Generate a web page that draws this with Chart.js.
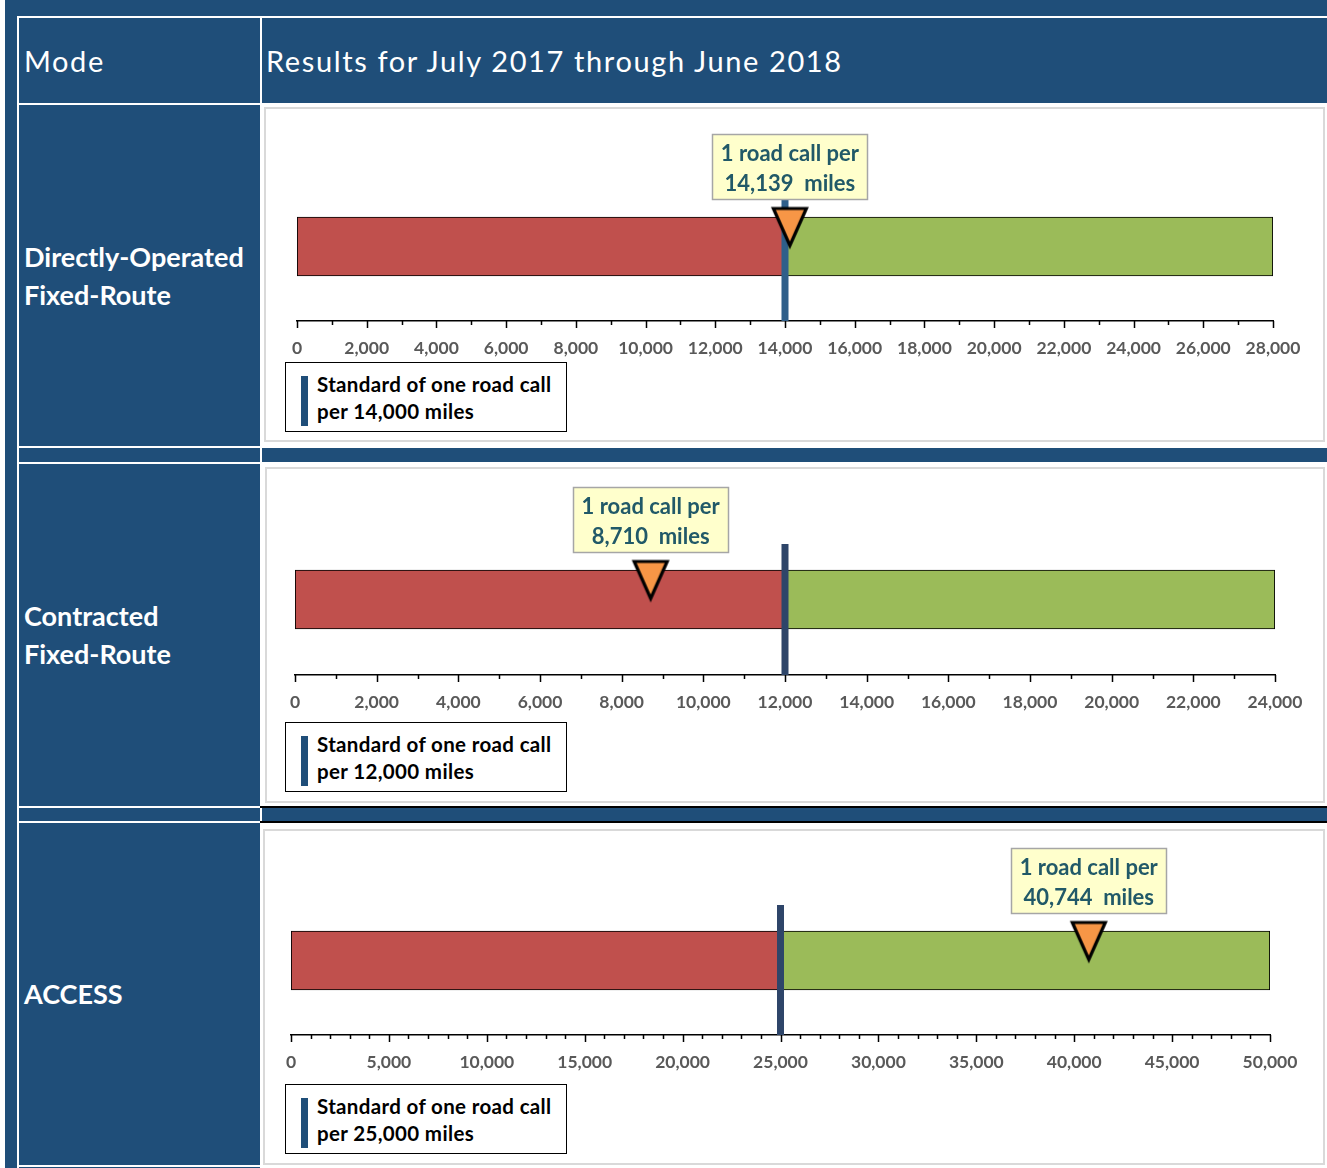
<!DOCTYPE html>
<html><head><meta charset="utf-8">
<script src="https://cdn.jsdelivr.net/npm/chart.js@4.4.1/dist/chart.umd.min.js"></script>
<style>
html,body{margin:0;padding:0}
body{background:#fff;width:1327px;height:1168px;overflow:hidden;position:relative;font-family:Lato,"Noto Sans",sans-serif}
.a{position:absolute}
.blue{background:#1f4e79}
.w{background:#fff}
.k{background:#000}
.lab{position:absolute;display:flex;flex-direction:column;justify-content:center;color:#fff;box-sizing:border-box}
.panel{position:absolute;box-sizing:border-box;border:2px solid #d9d9d9;background:#fff}
.legend{position:absolute;box-sizing:border-box;border:1.5px solid #000;background:#fff;color:#000;font-weight:bold;font-size:20.5px;line-height:27px;letter-spacing:0.35px}
.legend .sw{position:absolute;background:#1f4e79;width:7px}
</style></head><body>
<div id="root"></div>
<script>
// ---- data ----
const headerLabels = ["Mode", "Results for July 2017 through June 2018"];
const modeLabels = [["Directly-Operated", "Fixed-Route"], ["Contracted", "Fixed-Route"], ["ACCESS"]];
const standardMiles = [14000, 12000, 25000];
const resultMiles = [14139, 8710, 40744];
const axisMax = [28000, 24000, 50000];
const majorStep = [2000, 2000, 5000];
const minorStep = [1000, 1000, 1000];
const annotationLine1 = "1 road call per";
const annotationUnit = "miles";
const legendLine1 = "Standard of one road call";

// ---- layout / styles ----
const panels = [
  {left:264, top:107, width:1061, height:335, axisLeft:297, axisRight:1273, axisY:321, barTop:217, lineColor:'#2f5f8a', rowTop:105, rowBottom:446},
  {left:265, top:467, width:1060, height:336, axisLeft:295, axisRight:1275, axisY:675, barTop:570, lineColor:'#2e4569', rowTop:464, rowBottom:806},
  {left:263, top:829, width:1062, height:336, axisLeft:291, axisRight:1270, axisY:1035, barTop:931, lineColor:'#2e4569', rowTop:823, rowBottom:1165}
];
const BAR_T = 59;
const fmt = v => v.toLocaleString('en-US');
const root = document.getElementById('root');
function rect(cls, l, t, w, h, extra) {
  const d = document.createElement('div');
  d.className = 'a ' + cls;
  d.style.left = l + 'px'; d.style.top = t + 'px'; d.style.width = w + 'px'; d.style.height = h + 'px';
  if (extra) Object.assign(d.style, extra);
  root.appendChild(d); return d;
}
// background frame
rect('blue', 5, 0, 1322, 1168);
rect('w', 17, 16, 1310, 2);
rect('w', 17, 16, 2, 1152);
rect('w', 260, 16, 2, 1152);
rect('w', 17, 103, 1310, 2);
// left column separators
rect('w', 17, 446, 245, 2);
rect('w', 17, 462, 245, 2);
rect('w', 17, 806, 245, 2);
rect('w', 17, 821, 245, 2);
rect('w', 17, 1165, 245, 2);
// right column cells
rect('w', 262, 105, 1065, 343);
rect('w', 262, 462, 1065, 344);
rect('k', 260, 806, 1067, 1.5);
rect('k', 260, 821, 1067, 1.5);
rect('w', 262, 823, 1065, 345);

// header texts
const h1 = rect('lab', 19, 18, 240, 85, {fontSize:'29px', paddingLeft:'5px', letterSpacing:'1.6px'}); h1.textContent = headerLabels[0];
const h2 = rect('lab', 262, 18, 1060, 85, {fontSize:'29px', paddingLeft:'4px', letterSpacing:'1.62px'}); h2.textContent = headerLabels[1];

// triangle marker image
function makeTriangle() {
  const c = document.createElement('canvas');
  c.width = 40; c.height = 84;
  const g = c.getContext('2d');
  g.beginPath();
  g.moveTo(3.5, 4); g.lineTo(36.5, 4); g.lineTo(20, 41); g.closePath();
  g.fillStyle = '#f79646'; g.fill();
  g.lineWidth = 3.2; g.strokeStyle = '#000'; g.lineJoin = 'miter'; g.stroke();
  return c;
}
const tri = makeTriangle();

const overlay = {
  id: 'overlay',
  beforeDatasetDraw(chart, args, opts) {
    if (args.index !== 2) return;
    const ctx = chart.ctx, x = chart.scales.x, y = chart.scales.y;
    const px = x.getPixelForValue(opts.standard);
    const yc = y.getPixelForValue(0);
    ctx.save();
    ctx.fillStyle = opts.lineColor;
    ctx.fillRect(px - 3.5, yc - BAR_T / 2 - 26, 7, chart.chartArea.bottom - (yc - BAR_T / 2 - 26));
    ctx.restore();
  },
  afterDatasetsDraw(chart, args, opts) {
    const ctx = chart.ctx, x = chart.scales.x, y = chart.scales.y;
    const px = x.getPixelForValue(opts.result);
    const yc = y.getPixelForValue(0);
    const bw = 155, bh = 65;
    const bottom = yc - BAR_T / 2 - 18;
    const left = Math.round(px - bw / 2) + 0.5, top = Math.round(bottom - bh) + 0.5;
    ctx.save();
    ctx.fillStyle = '#ffffcc';
    ctx.fillRect(left, top, bw, bh);
    ctx.strokeStyle = '#a6a6a6'; ctx.lineWidth = 1.5;
    ctx.strokeRect(left, top, bw, bh);
    ctx.fillStyle = '#215968';
    ctx.font = 'bold 22px Lato';
    ctx.textAlign = 'center'; ctx.textBaseline = 'middle';
    ctx.fillText(annotationLine1, px, top + 19);
    ctx.fillText(opts.resultText, px, top + 49);
    // axis ticks
    const ay = chart.chartArea.bottom;
    ctx.strokeStyle = '#000'; ctx.lineWidth = 1.5;
    ctx.beginPath();
    for (let v = 0; v <= opts.max + 0.001; v += opts.minor) {
      const tx = Math.round(x.getPixelForValue(v)) + 0.5;
      const major = Math.abs(v / opts.major - Math.round(v / opts.major)) < 1e-9;
      ctx.moveTo(tx, ay); ctx.lineTo(tx, ay + (major ? 7 : 4));
    }
    ctx.stroke();
    ctx.restore();
  }
};

panels.forEach((p, i) => {
  // left label
  const lab = rect('lab', 19, p.rowTop, 241, p.rowBottom - p.rowTop, {fontSize:'27px', fontWeight:'bold', paddingLeft:'5px', lineHeight:'38px', letterSpacing:'0px'});
  modeLabels[i].forEach(t => { const s = document.createElement('div'); s.textContent = t; lab.appendChild(s); });
  // panel
  const pn = document.createElement('div'); pn.className = 'panel';
  Object.assign(pn.style, {left:p.left+'px', top:p.top+'px', width:p.width+'px', height:p.height+'px'});
  root.appendChild(pn);
  const cv = document.createElement('canvas');
  cv.width = p.width; cv.height = p.height;
  cv.className = 'a'; cv.style.left = p.left + 'px'; cv.style.top = p.top + 'px';
  cv.style.width = p.width + 'px'; cv.style.height = p.height + 'px';
  root.appendChild(cv);
  // legend
  const lg = document.createElement('div'); lg.className = 'legend';
  Object.assign(lg.style, {left:'285px', top:(p.top + 255) + 'px', width:'282px', height:'70px'});
  const sw = document.createElement('div'); sw.className = 'sw';
  Object.assign(sw.style, {left:'15px', top:'13px', height:'50px'});
  lg.appendChild(sw);
  const tx = document.createElement('div');
  Object.assign(tx.style, {position:'absolute', left:'31px', top:'8px', whiteSpace:'nowrap'});
  tx.innerHTML = legendLine1 + '<br>' + 'per ' + fmt(standardMiles[i]) + ' miles';
  lg.appendChild(tx);
  root.appendChild(lg);

  const cy = p.barTop + BAR_T / 2;
  const areaTop = 2 * cy - p.axisY - p.top;
  const scaleH = p.top + p.height - p.axisY;
  new Chart(cv, {
    type: 'bar',
    data: {
      labels: [modeLabels[i].join(' ')],
      datasets: [
        {type:'bar', data:[[0, standardMiles[i]]], backgroundColor:'#c0504d', borderColor:'#000', borderWidth:1.2, borderSkipped:false, barThickness:BAR_T, grouped:false, order:3},
        {type:'bar', data:[[standardMiles[i], axisMax[i]]], backgroundColor:'#9bbb59', borderColor:'#000', borderWidth:1.2, borderSkipped:false, barThickness:BAR_T, grouped:false, order:3},
        {type:'scatter', data:[{x:resultMiles[i], y:modeLabels[i].join(' ')}], pointStyle:tri, pointRadius:20, order:1}
      ]
    },
    options: {
      indexAxis: 'y', responsive: false, animation: false, devicePixelRatio: 1,
      layout: {padding: {left: p.axisLeft - p.left, right: p.left + p.width - p.axisRight, top: areaTop, bottom: 0}},
      plugins: {
        legend: {display:false}, tooltip: {enabled:false},
        overlay: {standard: standardMiles[i], result: resultMiles[i], resultText: fmt(resultMiles[i]) + '  ' + annotationUnit,
                  lineColor: p.lineColor, max: axisMax[i], major: majorStep[i], minor: minorStep[i]}
      },
      scales: {
        x: {type:'linear', min:0, max:axisMax[i], position:'bottom',
            grid:{display:false, drawTicks:false},
            border:{display:true, color:'#000', width:1.5},
            ticks:{stepSize:majorStep[i], autoSkip:false, maxRotation:0, padding:17, color:'#595959',
                   font:{family:'Lato', weight:'bold', size:17.5}, callback: v => fmt(v)},
            afterFit: s => { s.height = scaleH; }},
        y: {type:'category', display:false}
      }
    },
    plugins: [overlay]
  });
});
</script>
</body></html>
